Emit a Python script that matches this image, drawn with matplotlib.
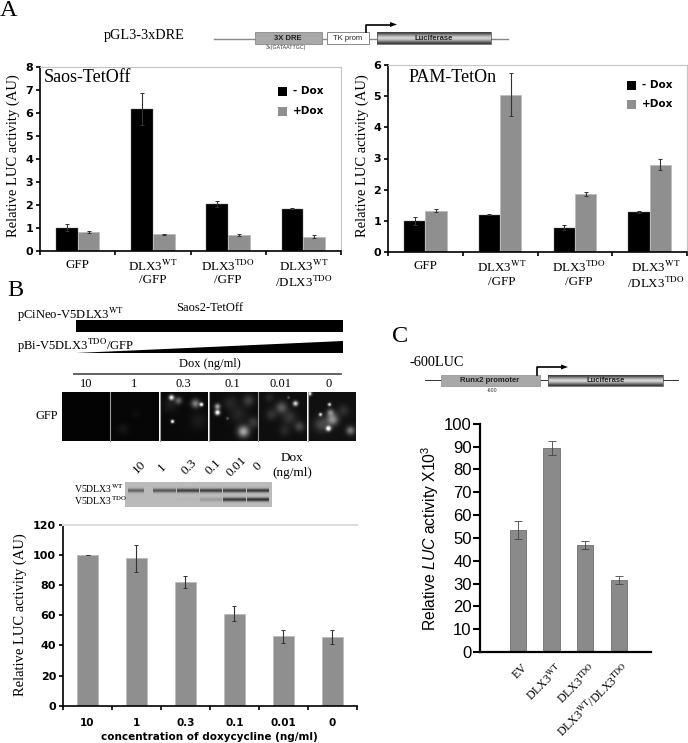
import matplotlib
matplotlib.use('Agg')
import matplotlib.pyplot as plt
from matplotlib.patches import Rectangle, Polygon
from matplotlib.transforms import ScaledTranslation
import numpy as np

W, H = 688, 743
SERIF = 'Liberation Serif'
SANS = 'Liberation Sans'
BOLD = 'DejaVu Sans'
GREY = '#8f8f8f'

plt.rcParams['mathtext.fontset'] = 'custom'
plt.rcParams['mathtext.rm'] = SANS
plt.rcParams['mathtext.it'] = SANS + ':italic'

# panel A
groups_a = ['GFP', 'DLX3$^{\\mathrm{WT}}$\n/GFP', 'DLX3$^{\\mathrm{TDO}}$\n/GFP',
            'DLX3$^{\\mathrm{WT}}$\n/DLX3$^{\\mathrm{TDO}}$']
saos_minus = [1.0, 6.15, 2.02, 1.83]
saos_minus_err = [0.15, 0.7, 0.13, 0.03]
saos_plus = [0.8, 0.7, 0.68, 0.6]
saos_plus_err = [0.03, 0.04, 0.04, 0.07]
pam_minus = [1.0, 1.2, 0.78, 1.28]
pam_minus_err = [0.12, 0.01, 0.08, 0.03]
pam_plus = [1.33, 5.05, 1.85, 2.8]
pam_plus_err = [0.04, 0.68, 0.06, 0.17]

# panel B
dox_labels = ['10', '1', '0.3', '0.1', '0.01', '0']
dox_vals = [100, 98, 82, 61, 46, 45.5]
dox_err = [0.2, 9, 4, 5, 4.6, 4.5]

# panel C
runx_labels = ['EV', 'DLX3$^{\\mathrm{WT}}$', 'DLX3$^{\\mathrm{TDO}}$',
               'DLX3$^{\\mathrm{WT}}$/DLX3$^{\\mathrm{TDO}}$']
runx_vals = [53.5, 89.5, 47, 31.5]
runx_err = [4, 3, 1.8, 1.8]

# GFP micrograph, blobs per frame: x, y, size, brightness
gfp_blobs = [
    [],
    [(12, 37, 4, 0.06), (25, 22, 3, 0.03)],
    [(11, 5, 1.8, 0.9), (18, 8, 2.5, 0.35), (35, 11, 3, 0.45), (41, 12, 1.3, 1.0), (12, 29, 1.2, 1.0),
     (10, 12, 5, 0.08), (38, 28, 6, 0.07)],
    [(7, 20, 1.8, 1.0), (7, 14, 2, 0.6), (33, 39, 4, 0.6), (28, 22, 6, 0.1), (38, 8, 4, 0.2), (20, 10, 5, 0.1),
     (43, 30, 4, 0.18), (17, 26, 1, 0.3)],
    [(36, 11, 1.8, 0.8), (22, 15, 4, 0.3), (12, 22, 4, 0.14), (40, 34, 3.5, 0.22), (30, 25, 5, 0.15),
     (10, 5, 3, 0.1), (25, 38, 4, 0.1), (29, 5, 1, 0.3)],
    [(20, 36, 1.8, 1.0), (21, 12, 1.2, 0.8), (12, 22, 1.2, 0.8), (24, 27, 4, 0.5), (13, 32, 5, 0.22),
     (42, 38, 3, 0.4), (35, 18, 4, 0.12), (1, 1, 1.5, 1.0), (22, 20, 2.5, 0.4)],
]

# western blot band strength per lane
blot_wt = [0.6, 0.7, 0.85, 0.85, 0.85, 0.9]
blot_tdo = [0.0, 0.0, 0.03, 0.2, 0.9, 0.95]


def pixel_axes(fig, left, right, top, bottom):
    return fig.add_axes([left / W, 1 - bottom / H, (right - left) / W, (bottom - top) / H])


def style_frame(ax):
    for s in ['top', 'right']:
        ax.spines[s].set_color('#c4c4c4')
    for s in ['left', 'bottom']:
        ax.spines[s].set_linewidth(1.2)
    ax.tick_params(axis='both', which='major', length=3, width=1.2, pad=2)
    for t in ax.get_yticklabels():
        t.set_fontfamily(BOLD)
        t.set_fontweight('bold')
        t.set_fontsize(8)


def grouped_panel(fig, box, ymax, minus, minus_err, plus, plus_err, width):
    ax = pixel_axes(fig, *box)
    x = np.arange(len(groups_a)) + 0.5
    err_style = dict(ecolor='#333333', elinewidth=0.8, capsize=1.5, capthick=0.7)
    ax.bar(x - width / 2, minus, width, color='black', edgecolor='#777777', linewidth=0.3,
           yerr=minus_err, error_kw=err_style)
    ax.bar(x + width / 2, plus, width, color=GREY, edgecolor='#b8b8b8', linewidth=0.5,
           yerr=plus_err, error_kw=err_style)
    ax.set_xlim(0, len(groups_a))
    ax.set_ylim(0, ymax)
    ax.set_yticks(range(ymax + 1))
    ax.set_xticks(range(len(groups_a) + 1))
    ax.set_xticklabels([])
    ax.set_xticks(x, groups_a, minor=True)
    ax.tick_params(axis='x', which='minor', length=0, pad=6)
    for t in ax.get_xticklabels(minor=True):
        t.set_fontfamily(SERIF)
        t.set_fontsize(9.4)
        t.set_math_fontfamily('stix')
        t.set_linespacing(1.05)
        t.set_verticalalignment('top')
    style_frame(ax)
    return ax


def luciferase(ov, x0, x1, y0, y1):
    g = np.array([0.25, 0.4, 0.6, 0.75, 0.85, 0.75, 0.6, 0.4, 0.25]).reshape(-1, 1)
    ov.imshow(g, extent=(x0, x1, y1, y0), cmap='gray', vmin=0, vmax=1, aspect='auto', zorder=3,
              interpolation='bilinear')
    ov.add_patch(Rectangle((x0, y0), x1 - x0, y1 - y0, fc='none', ec='#444444', lw=0.5, zorder=4))
    ov.text((x0 + x1) / 2, (y0 + y1) / 2, 'Luciferase', family=SANS, weight='bold', size=5.5,
            ha='center', va='center', color='#222222', zorder=5)


def promoter_arrow(ov, x, y0, y1, x1):
    ov.plot([x, x, x1 - 6], [y0, y1, y1], color='black', lw=1.2, zorder=5)
    ov.add_patch(Polygon([(x1 - 7, y1 - 2.5), (x1 - 7, y1 + 2.5), (x1, y1)], fc='black', ec='none', zorder=5))


fig = plt.figure(figsize=(W / 100, H / 100), dpi=100)

# A left
ax1 = grouped_panel(fig, (40, 341, 67, 250.5), 8, saos_minus, saos_minus_err, saos_plus, saos_plus_err, 0.29)
# A right
ax2 = grouped_panel(fig, (388, 687, 65, 252), 6, pam_minus, pam_minus_err, pam_plus, pam_plus_err, 0.285)
# the labels of this panel sit a little wider than the bars
for t, dx in zip(ax2.get_xticklabels(minor=True), [0, 2, 4, 6]):
    t.set_transform(t.get_transform() + ScaledTranslation(dx / 100, 0, fig.dpi_scale_trans))

# B bars
ax3 = pixel_axes(fig, 63, 357, 525, 705.7)
xb = np.arange(len(dox_vals)) + 0.5
ax3.bar(xb, dox_vals, 0.42, color=GREY, edgecolor='#b8b8b8', linewidth=0.5, yerr=dox_err,
        error_kw=dict(ecolor='#333333', elinewidth=0.8, capsize=1.5, capthick=0.7))
ax3.set_xlim(0, 6)
ax3.set_ylim(0, 120)
ax3.set_yticks(range(0, 121, 20))
ax3.set_xticks(range(7))
ax3.set_xticklabels([])
ax3.set_xticks(xb, dox_labels, minor=True)
ax3.tick_params(axis='x', which='minor', length=0, pad=9)
for t in ax3.get_xticklabels(minor=True):
    t.set_fontfamily(BOLD)
    t.set_fontweight('bold')
    t.set_fontsize(7.5)
style_frame(ax3)
ax3.spines['right'].set_visible(False)
ax3.spines['top'].set_color('#dddddd')
ax3.spines['top'].set_linewidth(1.5)

# C bars
ax4 = pixel_axes(fig, 480, 651, 423.7, 652)
ax4.bar(range(len(runx_vals)), runx_vals, 0.49, color='#8a8a8a', edgecolor='#6f6f6f', linewidth=0.6,
        yerr=runx_err, error_kw=dict(ecolor='#444444', elinewidth=0.6, capsize=3, capthick=0.6))
ax4.set_xlim(-1.13, 3.96)
ax4.set_ylim(0, 100)
ax4.set_yticks(range(0, 101, 10))
ax4.set_xticks(range(len(runx_labels)), runx_labels, rotation=45, ha='right', rotation_mode='anchor',
               family=SERIF, size=8.6, math_fontfamily='stix')
ax4.tick_params(axis='x', length=0, pad=7)
ax4.tick_params(axis='y', length=5, width=1.5, pad=1, labelsize=12)
for t in ax4.get_yticklabels():
    t.set_fontfamily(SANS)
for t in ax4.get_xticklabels():
    t.set_transform(t.get_transform() + ScaledTranslation(4 / 100, 0, fig.dpi_scale_trans))
for s in ['top', 'right']:
    ax4.spines[s].set_visible(False)
for s in ['left', 'bottom']:
    ax4.spines[s].set_linewidth(1.6)

# overlay in pixel coordinates for labels and the schematics
ov = fig.add_axes([0, 0, 1, 1], facecolor='none')
ov.axis('off')


def serif(x, y, s, size=10.5, ha='center', **kw):
    ov.text(x, y, s, family=SERIF, size=size, ha=ha, va='center', math_fontfamily='stix', **kw)


serif(9, 10.5, 'A', 17.5)
serif(15, 290, 'B', 17.5)
serif(400, 337, 'C', 17.5)

# A schematic
serif(144, 35, 'pGL3-3xDRE', 10.3)
ov.plot([214, 508], [38.7, 38.7], color='#888888', lw=1, zorder=1)
ov.add_patch(Rectangle((255, 32), 67, 12, fc='#a8a8a8', ec='#888888', lw=0.6, zorder=2))
ov.text(288, 38, '3X DRE', family=SANS, weight='bold', size=5.5, ha='center', va='center', color='#222222')
ov.text(286, 47, '3x(GATAATTGC)', family=SANS, size=3.8, ha='center', va='center', color='#333333')
ov.add_patch(Rectangle((327, 32), 42, 12, fc='white', ec='#777777', lw=0.6, zorder=2))
ov.text(348, 38, 'TK prom', family=SANS, size=5.5, ha='center', va='center', color='#222222', zorder=3)
luciferase(ov, 377, 491, 32, 44)
promoter_arrow(ov, 366, 32, 24.5, 397)

ov.text(44, 77, 'Saos-TetOff', family=SERIF, size=13, va='center')
ov.text(409, 77, 'PAM-TetOn', family=SERIF, size=13, va='center')
serif(13, 156, 'Relative LUC activity (AU)', 10.5, rotation=90)
serif(362, 156, 'Relative LUC activity (AU)', 10.5, rotation=90)

for sq, tx, y1, y2 in [(278, 293, 91, 111), (627, 642, 85, 104)]:
    ov.add_patch(Rectangle((sq, y1 - 4.5), 9, 9, fc='black', ec='none'))
    ov.add_patch(Rectangle((sq, y2 - 4.5), 9, 9, fc=GREY, ec='none'))
    ov.text(tx, y1, '- Dox', family=BOLD, weight='bold', size=7.5, va='center')
    ov.text(tx, y2, '+Dox', family=BOLD, weight='bold', size=7.5, va='center')

# B schematic
serif(17, 315, 'pCiNeo-V5DLX3$^{\\mathrm{WT}}$', 9.1, ha='left')
serif(210, 308, 'Saos2-TetOff', 9)
ov.add_patch(Rectangle((76, 320), 267, 12, fc='black', ec='none'))
serif(17, 346, 'pBi-V5DLX3$^{\\mathrm{TDO}}$/GFP', 9.1, ha='left')
ov.add_patch(Polygon([(76, 353), (343, 353), (343, 341)], fc='black', ec='none'))
serif(210, 364, 'Dox (ng/ml)', 9)
ov.plot([74, 341], [374, 374], color='#555555', lw=1.3)
for lx, s in zip([86, 134, 183, 232, 281, 329], dox_labels):
    serif(lx, 384, s, 9)
serif(47, 416, 'GFP', 9)

# GFP frames
frame_w, frame_h = 48, 49
yy, xx = np.mgrid[0:frame_h, 0:frame_w]
for i, blobs in enumerate(gfp_blobs):
    img = np.full((frame_h, frame_w), 0.015 + 0.01 * i)
    for bx, by, bs, bv in blobs:
        img += bv * np.exp(-((xx - bx) ** 2 + (yy - by) ** 2) / (2 * bs ** 2))
    x0 = 62 + i * 49.2
    ov.imshow(np.clip(img, 0, 1), extent=(x0, x0 + frame_w, 441, 392), cmap='gray', vmin=0, vmax=1,
              aspect='auto', interpolation='bilinear')
for sep in [110, 160, 209, 258, 308]:
    ov.plot([sep, sep], [392, 441], color='#999999', lw=0.8)

# blot
for lx, s in zip([139, 162, 189, 213, 237, 258], dox_labels):
    serif(lx, 467, s, 9.5, rotation=45)
serif(292, 458, 'Dox', 9.5)
serif(292, 473, '(ng/ml)', 9.5)
serif(74, 489, 'V5DLX3$^{\\mathrm{WT}}$', 7, ha='left')
serif(74, 501, 'V5DLX3$^{\\mathrm{TDO}}$', 7, ha='left')

by, bx = np.mgrid[0:25, 0:147]
blot = np.full((25, 147), 0.73)
lanes = [(128, 143), (153, 175), (177, 198), (200, 221), (223, 245), (247, 268)]
for (l0, l1), s1, s2 in zip(lanes, blot_wt, blot_tdo):
    in_lane = ((bx + 125) >= l0) & ((bx + 125) <= l1)
    blot -= in_lane * 0.55 * s1 * np.exp(-((by - 8) ** 2) / 4.0)
    blot -= in_lane * 0.55 * s2 * np.exp(-((by - 17) ** 2) / 4.0)
ov.imshow(np.clip(blot, 0, 1), extent=(125, 272, 507, 482), cmap='gray', vmin=0, vmax=1, aspect='auto',
          interpolation='bicubic')

serif(20, 615, 'Relative LUC activity (AU)', 10.5, rotation=90)
ov.text(209, 737, 'concentration of doxycycline (ng/ml)', family=BOLD, weight='bold', size=7.5,
        ha='center', va='center')

# C schematic
serif(410, 363, '-600LUC', 10.3, ha='left')
ov.plot([425, 678], [380, 380], color='#333333', lw=0.7, zorder=1)
ov.add_patch(Rectangle((441, 375), 99, 11, fc='#a8a8a8', ec='#999999', lw=0.6, zorder=2))
ov.text(490, 380.5, 'Runx2 promoter', family=SANS, weight='bold', size=5.5, ha='center', va='center',
        color='#222222', zorder=3)
ov.text(492, 390, '-600', family=SANS, size=3.8, ha='center', va='center', color='#333333')
luciferase(ov, 548, 663, 375, 386)
promoter_arrow(ov, 537, 375, 367, 568)
ov.text(430, 538, 'Relative $\\mathit{LUC}$ activity X10$^{3}$', family=SANS, size=11.3, rotation=90,
        ha='center', va='center', math_fontfamily='custom')

ov.set_xlim(0, W)
ov.set_ylim(H, 0)

fig.savefig('out.png', dpi=100)
